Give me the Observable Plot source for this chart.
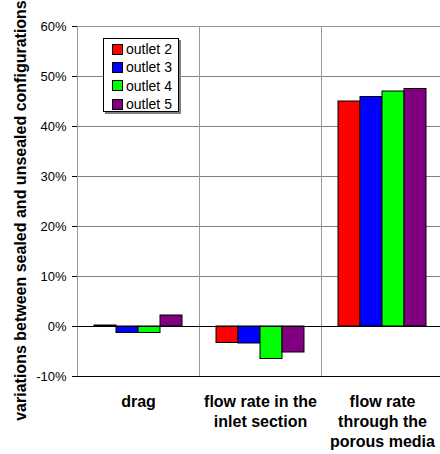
<!DOCTYPE html>
<html>
<head>
<meta charset="utf-8">
<script src="https://cdn.jsdelivr.net/npm/d3@7"></script>
<script src="https://cdn.jsdelivr.net/npm/@observablehq/plot@0.6"></script>
<style>
  html, body { margin: 0; padding: 0; background: #fff; overflow: hidden; }
  #wrap { position: relative; width: 440px; height: 454px; }
  #legend {
    position: absolute; left: 103px; top: 38px; width: 74px; height: 72px;
    border: 1px solid #000; background: #fff; box-shadow: 2px 2px 0 #808080;
    font-family: "Liberation Sans", Arial, sans-serif; font-size: 14px; color: #000;
    box-sizing: content-box;
  }
  #legend .item { position: absolute; left: 8px; height: 18px; line-height: 18px; white-space: nowrap; }
  #legend .sw { display: inline-block; width: 9px; height: 9px; border: 1px solid #000; vertical-align: middle; margin-right: 3px; position: relative; top: -1px; }
</style>
</head>
<body>
<div id="wrap"></div>
<script>
// ---- data ----
const categories = ["drag", "flow rate in the\ninlet section", "flow rate\nthrough the\nporous media"];
const outlets = ["outlet 2", "outlet 3", "outlet 4", "outlet 5"];
const colors = ["#ff0000", "#0000ff", "#00ff00", "#800080"];
const dragValues = [0.2, -1.3, -1.3, 2.2];
const inletValues = [-3.3, -3.4, -6.5, -5.2];
const porousValues = [45.0, 45.9, 47.0, 47.5];
const yTicks = [-10, 0, 10, 20, 30, 40, 50, 60];
const yTitle = "variations between sealed and unsealed configurations";

const seriesByCategory = [dragValues, inletValues, porousValues];
const rows = [];
categories.forEach((c, i) => outlets.forEach((o, j) => rows.push({category: c, outlet: o, value: seriesByCategory[i][j]})));

const chart = Plot.plot({
  width: 440,
  height: 454,
  marginLeft: 77,
  marginRight: -3,
  marginTop: 26,
  marginBottom: 78,
  style: {fontFamily: "'Liberation Sans', Arial, sans-serif", fontSize: "13px", color: "#000", background: "#fff"},
  fx: {domain: categories, padding: 0, axis: null, label: null},
  x: {domain: outlets, paddingInner: 0, paddingOuter: 0.75, axis: null},
  y: {domain: [-10, 60], ticks: yTicks, tickFormat: d => d + "%", tickSize: 5, tickPadding: 6, label: null, line: true},
  color: {domain: outlets, range: colors},
  marks: [
    Plot.gridY(yTicks, {stroke: "#808080", strokeOpacity: 1}),
    Plot.frame({stroke: "#9a9a9a"}),
    Plot.barY(rows, {fx: "category", x: "outlet", y: "value", fill: "outlet", stroke: "#000", strokeWidth: 1}),
    Plot.ruleY([0, -10], {stroke: "#000"}),
    Plot.text(categories.map(c => ({category: c})), {
      fx: "category", text: "category", frameAnchor: "bottom", lineAnchor: "top",
      dy: 16, fontSize: 16, fontWeight: "bold", lineHeight: 1.25, fill: "#000"
    }),
    Plot.text([yTitle], {
      fx: () => categories[0], text: d => d, frameAnchor: "left", rotate: -90,
      textAnchor: "middle", lineAnchor: "bottom", dx: -52, dy: 9,
      fontSize: 16, fontWeight: "bold", fill: "#000"
    })
  ]
});

const wrap = document.getElementById("wrap");
wrap.appendChild(chart);

const legend = document.createElement("div");
legend.id = "legend";
outlets.forEach((o, i) => {
  const item = document.createElement("div");
  item.className = "item";
  item.style.top = (1 + i * 18.3) + "px";
  const sw = document.createElement("span");
  sw.className = "sw";
  sw.style.background = colors[i];
  item.appendChild(sw);
  item.appendChild(document.createTextNode(o));
  legend.appendChild(item);
});
wrap.appendChild(legend);
</script>
</body>
</html>
